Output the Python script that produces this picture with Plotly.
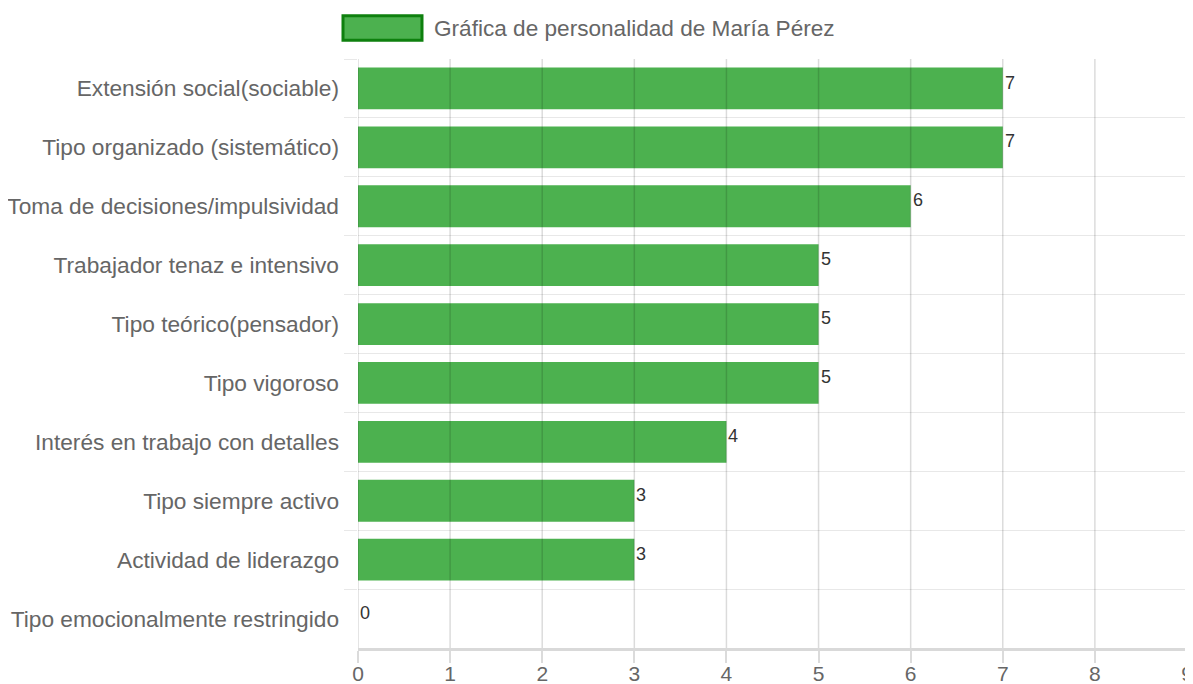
import plotly.graph_objects as go

categories = [
    "Extensión social(sociable)",
    "Tipo organizado (sistemático)",
    "Toma de decisiones/impulsividad",
    "Trabajador tenaz e intensivo",
    "Tipo teórico(pensador)",
    "Tipo vigoroso",
    "Interés en trabajo con detalles",
    "Tipo siempre activo",
    "Actividad de liderazgo",
    "Tipo emocionalmente restringido",
]
values = [7, 7, 6, 5, 5, 5, 4, 3, 3, 0]
x_ticks = list(range(0, 10))
series_name = "Gráfica de personalidad de María Pérez"

ypos = list(range(len(categories)))
bar_color = "#4CB14F"
edge_color = "#0E800E"
vgrid = "rgba(0,0,0,0.14)"
hgrid = "rgba(0,0,0,0.09)"

fig = go.Figure()
fig.add_trace(go.Bar(
    x=values, y=ypos, orientation="h",
    marker=dict(color=bar_color, line=dict(width=0)),
    width=0.71, showlegend=False, hoverinfo="x+y",
))

for v, y in zip(values, ypos):
    fig.add_annotation(x=v, y=y - 0.1, text=str(v), showarrow=False,
                       xanchor="left", yanchor="middle", xshift=0,
                       font=dict(family="Liberation Sans Narrow, Liberation Sans", size=18, color="#333"))

# vertical grid drawn above the bars (as in the reference)
for t in x_ticks:
    fig.add_shape(type="line", xref="x", yref="y domain", x0=t, x1=t, y0=0, y1=1,
                  line=dict(color=vgrid, width=1.5), layer="above")

# custom legend (wide box + label)
fig.add_shape(type="rect", xref="paper", yref="paper",
              x0=-0.0181, x1=0.0772, y0=1.032, y1=1.0735,
              fillcolor=bar_color, line=dict(color=edge_color, width=3), layer="above")
fig.add_annotation(xref="paper", yref="paper", x=0.0893, y=1.0526, text=series_name,
                   showarrow=False, xanchor="left", yanchor="middle",
                   font=dict(size=22.6, color="#666"))

# page body has an 8px default margin, so the figure is slightly smaller
fig.update_layout(
    width=1185, height=676,
    margin=dict(l=350, r=6, t=51, b=36, autoexpand=False),
    paper_bgcolor="white", plot_bgcolor="white",
    font=dict(family="Liberation Sans, Arial", size=22, color="#666"),
    bargap=0.29, showlegend=False,
)
fig.update_xaxes(
    range=[0, 9], tickvals=x_ticks, showgrid=False, automargin=False,
    zeroline=False, showline=True, linecolor="rgba(0,0,0,0.15)", linewidth=3,
    ticks="outside", ticklen=12, tickcolor=vgrid, tickwidth=1.5, ticklabelstandoff=-7,
    tickfont=dict(size=21, color="#666"),
)
fig.update_yaxes(
    range=[len(categories) - 0.5, -0.5], tickvals=ypos, ticktext=categories,
    showgrid=False, zeroline=False, showline=False, automargin=False,
    ticks="", ticklabelstandoff=18,
    tickfont=dict(size=22.7, color="#666"),
    minor=dict(tickvals=[i - 0.5 for i in range(len(categories))],
               showgrid=True, gridcolor=hgrid, gridwidth=1,
               ticks="outside", ticklen=13, tickcolor=hgrid),
)

fig.write_html("out.html")
